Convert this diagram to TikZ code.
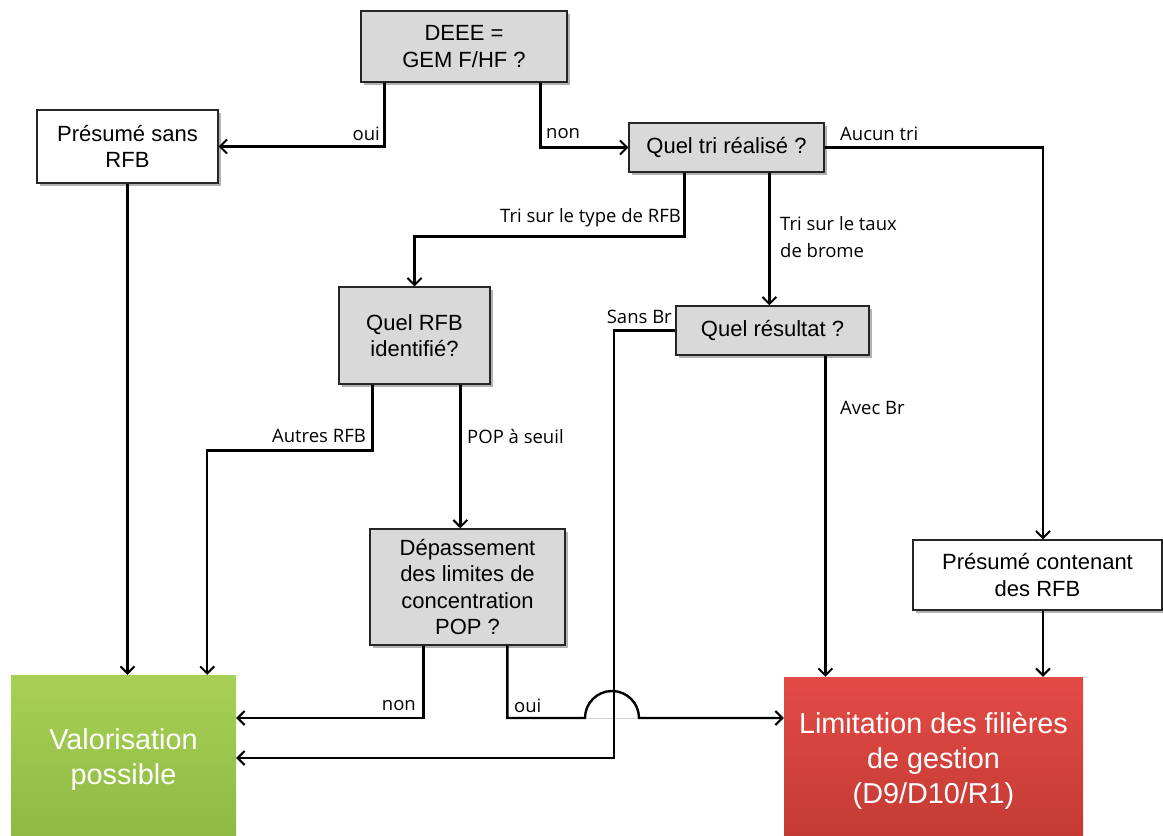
\documentclass[tikz,border=0pt]{standalone}
\usepackage{fontspec}
\setmainfont{Liberation Sans}
\newfontfamily\lblfont{Open Sans}
\usetikzlibrary{arrows.meta,calc,shadows}
\definecolor{boxgray}{HTML}{D9D9D9}
\definecolor{greentop}{HTML}{A8D056}
\definecolor{greenbot}{HTML}{8DB841}
\definecolor{redtop}{HTML}{E34A45}
\definecolor{redbot}{HTML}{C23A33}
\tikzset{
  shad/.style={drop shadow={shadow xshift=2.5pt,shadow yshift=-3pt,opacity=0.3,fill=black}},
  qbox/.style={draw=black!85,line width=1.3pt,fill=boxgray,align=center,inner sep=0pt,
    font=\fontsize{22}{26.5}\selectfont,shad},
  wbox/.style={qbox,fill=white},
  bigbox/.style={inner sep=0pt,align=center,text=white,font=\fontsize{28.8}{35}\selectfont},
  lbl/.style={font=\lblfont\fontsize{18.5}{27}\selectfont,inner sep=0pt},
  arr/.style={line width=2.4pt,-{Straight Barb[length=7pt,width=14pt,line width=2pt]}},
  ln/.style={line width=2.4pt}
}
\begin{document}
\begin{tikzpicture}[x=1pt,y=1pt]
\useasboundingbox[fill=white] (0,0) rectangle (1163,-836);

% nodes
\node[qbox,minimum width=206pt,minimum height=71pt] (deee) at (464,-46.5) {DEEE =\\GEM F/HF ?};
\node[wbox,minimum width=181pt,minimum height=73pt] (psans) at (127.5,-146.5) {Présumé sans\\RFB};
\node[qbox,minimum width=195pt,minimum height=49pt] (qtri) at (726.5,-147.5) {Quel tri réalisé ?};
\node[qbox,minimum width=151pt,minimum height=97pt] (qrfb) at (414.5,-335.5) {Quel RFB\\identifié?};
\node[qbox,minimum width=193pt,minimum height=49pt] (qres) at (772.5,-330.5) {Quel résultat ?};
\node[qbox,minimum width=195pt,minimum height=116pt] (depas) at (467.5,-587) {Dépassement\\des limites de\\concentration\\POP ?};
\node[wbox,minimum width=249pt,minimum height=70pt] (pcont) at (1037.5,-575) {Présumé contenant\\des RFB};
\node[bigbox,top color=greentop,bottom color=greenbot,minimum width=225pt,minimum height=170pt] (valo) at (123.5,-760) {Valorisation\\possible};
\node[bigbox,top color=redtop,bottom color=redbot,minimum width=299pt,minimum height=168pt] (limit) at (933.5,-761) {Limitation des filières\\de gestion\\(D9/D10/R1)};

% helper coordinates
\coordinate (d1) at ($(deee.south west)+(24,0)$);
\coordinate (d2) at ($(deee.south west)+(180,0)$);
\coordinate (t1) at ($(qtri.south west)+(56,0)$);
\coordinate (t2) at ($(qtri.south west)+(141,0)$);
\coordinate (r1) at ($(qrfb.south west)+(34,0)$);
\coordinate (r2) at ($(qrfb.south west)+(122,0)$);
\coordinate (v1) at ($(valo.north east)+(-29,0)$);
\coordinate (p1) at ($(depas.south west)+(54,0)$);
\coordinate (p2) at ($(depas.south west)+(138,0)$);
\coordinate (s1) at ($(qres.south west)+(150,0)$);
\coordinate (c1) at ($(pcont.south)+(5.5,0)$);
\coordinate (c0) at ($(pcont.north)+(5.5,0)$);
\coordinate (hopL) at (585,-718);
\coordinate (hopR) at (639,-718);
\coordinate (sbturn) at (614,-758);

% connectors
\draw[arr] (d1) |- (psans.east);
\draw[arr] (d2) |- (qtri.west);
\draw[arr] (qtri.east) -| (c0);
\draw[arr] (t1) -- ++(0,-64) -| (qrfb.north);
\draw[arr] (t2) -- (t2 |- qres.north);
\draw[arr] (psans.south) -- (psans.south |- valo.north);
\draw[arr] (r1) -- ++(0,-66) -| (v1);
\draw[arr] (r2) -- (r2 |- depas.north);
\draw[arr] (p1) |- ($(valo.east)+(0,42)$);
\draw[gray!35,line width=1pt] (hopL) -- (hopR);
\draw[arr] (p2) |- (hopL) arc[start angle=180,end angle=0,radius=27pt] -- (hopR -| limit.west);
\draw[arr] (qres.west) -| (sbturn) -- (sbturn -| valo.east);
\draw[arr] (s1) -- (s1 |- limit.north);
\draw[arr] (c1) -- (c1 |- limit.north);

% labels
\node[lbl,anchor=east] (loui1) at (380,-134) {oui};
\node[lbl,anchor=west] (lnon1) at (546,-134) {non};
\node[lbl,anchor=west] (laucun) at (840,-134) {Aucun tri};
\node[lbl,anchor=east] (ltype) at (681,-218) {Tri sur le type de RFB};
\node[lbl,anchor=west,align=left] (ltaux) at (780,-237.5) {Tri sur le taux\\de brome};
\node[lbl,anchor=east] (lsans) at (672,-317) {Sans Br};
\node[lbl,anchor=east] (lautres) at (366,-436) {Autres RFB};
\node[lbl,anchor=west] (lpop) at (467,-436) {POP à seuil};
\node[lbl,anchor=west] (lavec) at (840,-408) {Avec Br};
\node[lbl,anchor=east] (lnon2) at (416,-706) {non};
\node[lbl,anchor=west] (loui2) at (514,-706) {oui};
\end{tikzpicture}
\end{document}
